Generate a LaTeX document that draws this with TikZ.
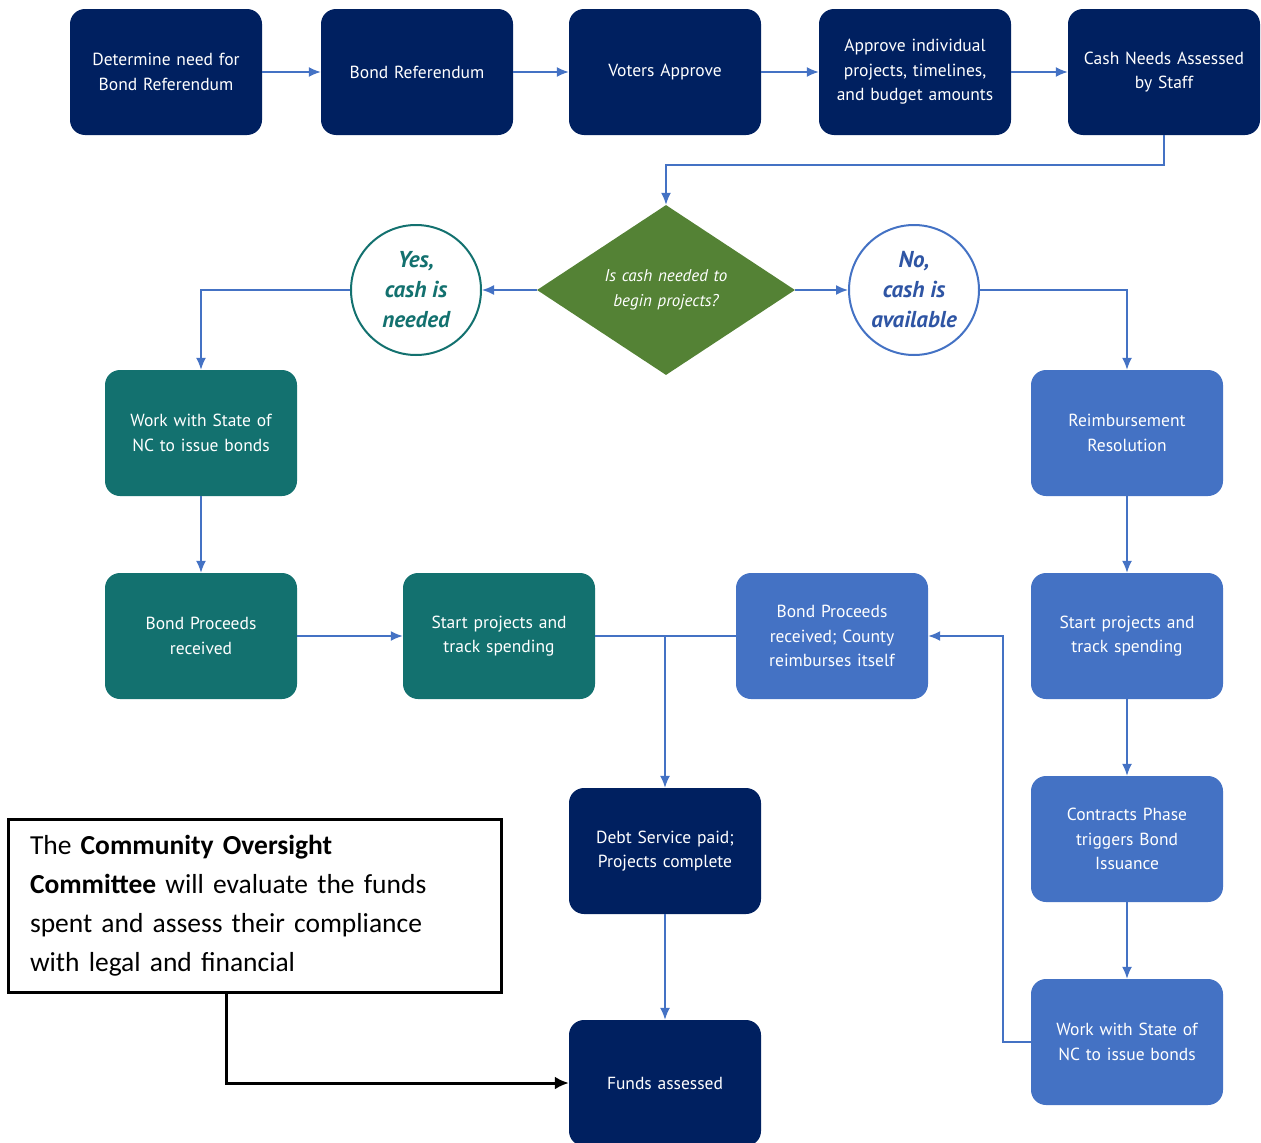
\documentclass[tikz,border=0pt]{standalone}
\usepackage{fontspec}
\setmainfont{PT Sans}
\newfontfamily\notefont{Carlito}
\usetikzlibrary{shapes.geometric,arrows.meta}
\definecolor{navy}{RGB}{0,32,96}
\definecolor{tealc}{RGB}{19,113,111}
\definecolor{bluec}{RGB}{68,114,196}
\definecolor{greenc}{RGB}{84,130,53}
\definecolor{noblue}{RGB}{47,85,164}
\tikzset{
  x=1pt, y=-1pt,
  box/.style={rectangle, rounded corners=15pt, minimum width=192pt, minimum height=126pt,
    text width=186pt, align=center, text=white, inner sep=0pt,
    font=\fontsize{17.5}{24.5}\selectfont},
  navybox/.style={box, fill=navy},
  tealbox/.style={box, fill=tealc},
  bluebox/.style={box, fill=bluec},
  decision/.style={diamond, fill=greenc, minimum width=258pt, minimum height=170pt, inner sep=0pt,
    aspect=1.52, text width=150pt, align=center, text=white,
    font=\fontsize{17}{24.5}\selectfont\itshape},
  answer/.style={circle, minimum size=130pt, inner sep=0pt, line width=2pt, fill=white,
    align=center, font=\fontsize{23}{30}\selectfont\bfseries\itshape},
  conn/.style={draw=bluec, line width=1.6pt, -{Latex[length=12pt,width=10pt]}},
  plain/.style={draw=bluec, line width=1.6pt},
  note/.style={draw=black, line width=3pt, rectangle, text width=450pt, align=left,
    minimum height=173pt, minimum width=493pt, inner xsep=21pt,
    font=\notefont\fontsize{27.5}{39}\selectfont},
  blackarr/.style={draw=black, line width=3pt, -{Latex[length=14pt,width=13pt]}}
}
\begin{document}
\begin{tikzpicture}
\useasboundingbox (0,0) rectangle (1261,1143);
% top row
\node[navybox] (b1) at (166,72) {Determine need for\\Bond Referendum};
\node[navybox] (b2) at (417,72) {Bond Referendum};
\node[navybox] (b3) at (665,72) {Voters Approve};
\node[navybox] (b4) at (915,72) {Approve individual\\projects, timelines,\\and budget amounts};
\node[navybox] (b5) at (1164,72) {Cash Needs Assessed\\by Staff};
% decision
\node[decision] (dec) at (666,290) {Is cash needed to\\begin projects?};
\node[answer, draw=tealc, text=tealc] (yes) at (416,290) {Yes,\\cash is\\needed};
\node[answer, draw=bluec, text=noblue] (no) at (914,290) {No,\\cash is\\available};
% left branch
\node[tealbox] (wt) at (201,433) {Work with State of\\NC to issue bonds};
\node[tealbox] (bpt) at (201,636) {Bond Proceeds\\received};
\node[tealbox] (spt) at (499,636) {Start projects and\\track spending};
% right branch
\node[bluebox] (rr) at (1127,433) {Reimbursement\\Resolution};
\node[bluebox] (spb) at (1127,636) {Start projects and\\track spending};
\node[bluebox] (cp) at (1127,839) {Contracts Phase\\triggers Bond\\Issuance};
\node[bluebox] (wb) at (1127,1042) {Work with State of\\NC to issue bonds};
\node[bluebox] (bpc) at (832,636) {Bond Proceeds\\received; County\\reimburses itself};
% end
\node[navybox] (ds) at (665,851) {Debt Service paid;\\Projects complete};
\node[navybox] (fa) at (665,1083) {Funds assessed};
% note
\node[note, anchor=north west] (tb) at (7,818) {The \textbf{Community Oversight}\\\textbf{Committee} will evaluate the funds\\spent and assess their compliance\\with legal and financial};
% connectors
\draw[conn] (b1) -- (b2);
\draw[conn] (b2) -- (b3);
\draw[conn] (b3) -- (b4);
\draw[conn] (b4) -- (b5);
\draw[conn] (b5.south) -- ++(0,30) -| (dec.north);
\draw[conn] (dec.west) -- (yes.east);
\draw[conn] (dec.east) -- (no.west);
\draw[conn] (yes.west) -| (wt.north);
\draw[conn] (no.east) -| (rr.north);
\draw[conn] (wt) -- (bpt);
\draw[conn] (bpt) -- (spt);
\draw[plain] (spt.east) -- (bpc.west);
\draw[conn] (ds.north |- spt.east) -- (ds.north);
\draw[conn] (ds) -- (fa);
\draw[conn] (rr) -- (spb);
\draw[conn] (spb) -- (cp);
\draw[conn] (cp) -- (wb);
\draw[conn] (wb.west) -- ++(-28,0) |- (bpc.east);
\draw[blackarr] ([xshift=-29pt]tb.south) |- (fa.west);
\end{tikzpicture}
\end{document}
